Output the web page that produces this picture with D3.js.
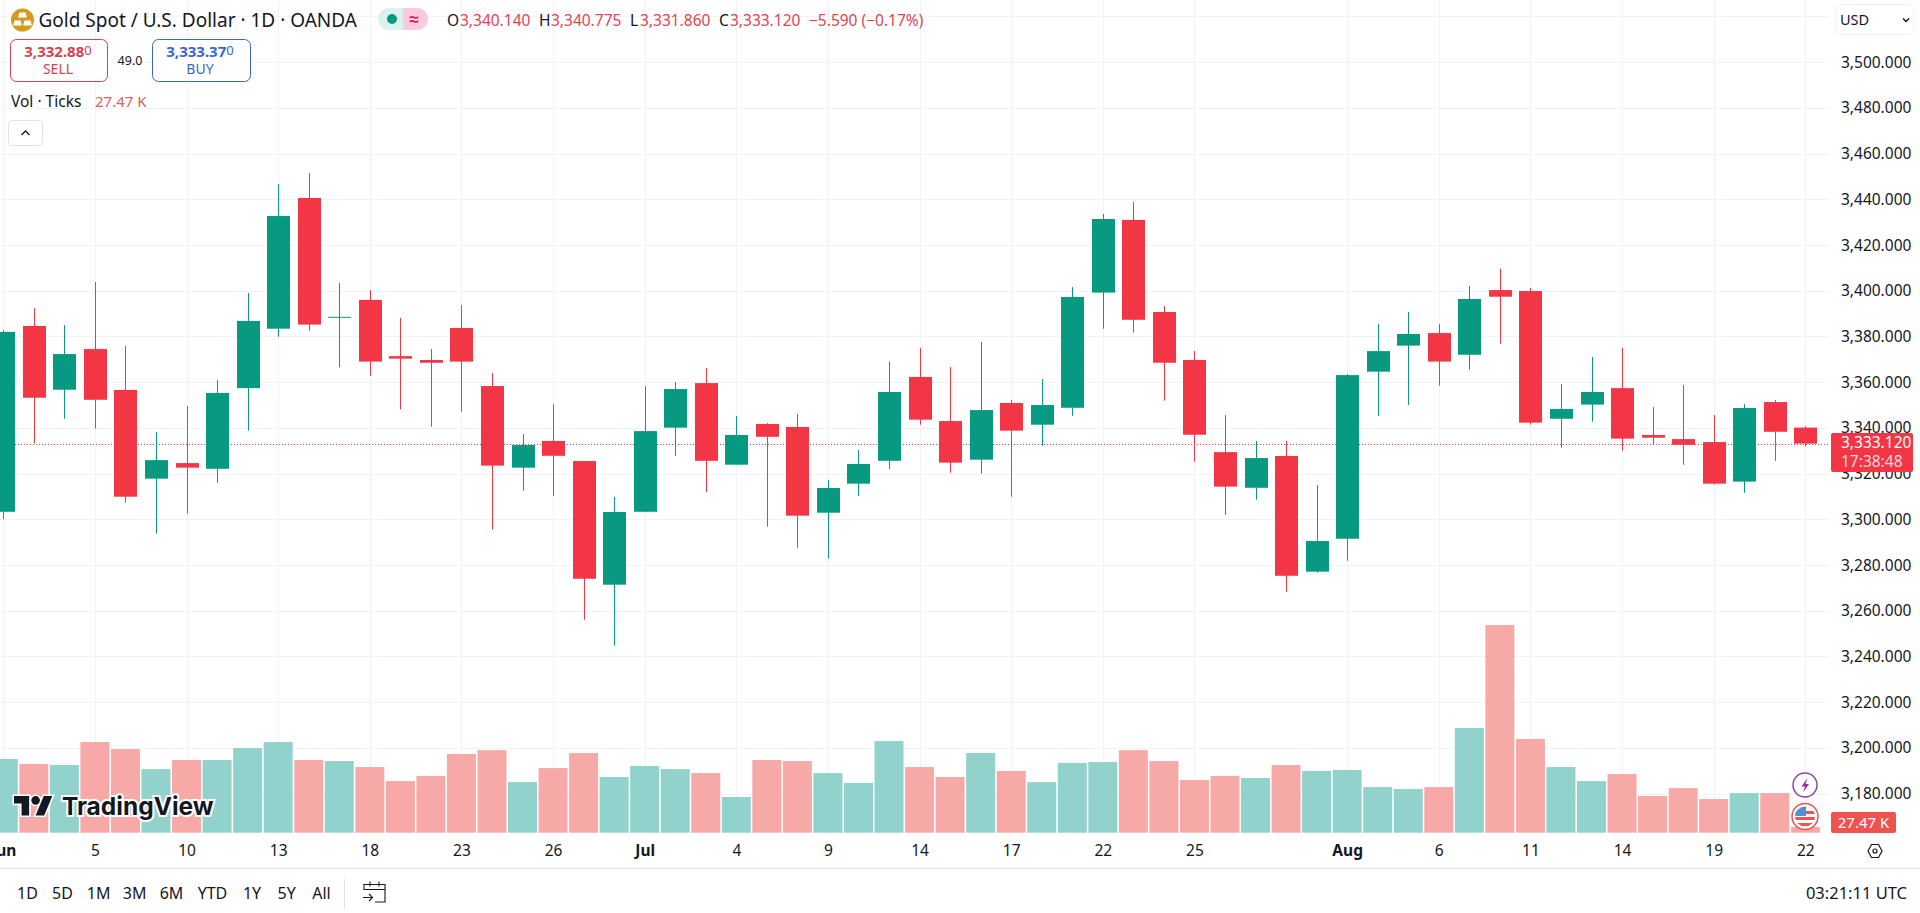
<!DOCTYPE html>
<html>
<head>
<meta charset="utf-8">
<title>Gold Spot / U.S. Dollar</title>
<script src="https://cdn.jsdelivr.net/npm/d3@7/dist/d3.min.js"></script>
<style>
  html, body { margin: 0; padding: 0; background: #fff; overflow: hidden; }
  svg { display: block; }
  text { font-family: "Noto Sans", sans-serif; fill: #131722; }
</style>
</head>
<body>
<div id="chart"></div>
<script>
// trading days shown on the chart
const dates = [
  '06-02','06-03','06-04','06-05','06-06','06-09','06-10','06-11','06-12','06-13',
  '06-16','06-17','06-18','06-19','06-20','06-23','06-24','06-25','06-26','06-27',
  '06-30','07-01','07-02','07-03','07-04','07-07','07-08','07-09','07-10','07-11',
  '07-14','07-15','07-16','07-17','07-18','07-21','07-22','07-23','07-24','07-25',
  '07-28','07-29','07-30','07-31','08-01','08-04','08-05','08-06','08-07','08-08',
  '08-11','08-12','08-13','08-14','08-15','08-18','08-19','08-20','08-21','08-22'
];

const opens = [
  3303.3,3384.6,3356.7,3374.5,3356.6,3317.8,3324.6,3322.1,3357.4,3383.4,
  3440.6,3388.4,3396.0,3371.4,3369.7,3383.7,3358.3,3322.6,3334.3,3325.5,
  3271.4,3303.3,3340.1,3359.6,3323.9,3341.7,3340.4,3302.9,3315.6,3325.6,
  3362.3,3343.0,3326.1,3350.9,3341.4,3348.8,3399.2,3431.0,3390.7,3369.7,
  3329.4,3313.8,3327.7,3277.1,3291.5,3364.6,3376.0,3381.5,3372.0,3400.3,
  3399.9,3344.0,3350.2,3357.4,3336.9,3335.1,3333.8,3316.5,3351.3,3340.14
];
const highs = [
  3382.8,3392.3,3385.0,3403.8,3375.8,3338.2,3349.6,3360.9,3399.0,3446.7,
  3451.5,3403.4,3400.3,3388.1,3374.5,3393.8,3364.0,3337.3,3350.4,3325.5,
  3309.8,3358.3,3360.1,3366.2,3345.2,3342.1,3346.1,3317.2,3330.3,3369.0,
  3375.0,3366.6,3377.6,3352.2,3361.4,3401.6,3433.6,3438.8,3393.3,3373.6,
  3345.6,3334.3,3334.3,3315.0,3363.6,3385.4,3390.7,3385.4,3402.1,3409.7,
  3401.2,3359.2,3371.0,3375.0,3349.1,3358.8,3345.6,3350.4,3352.2,3340.775
];
const lows = [
  3300.1,3333.2,3344.0,3339.7,3307.3,3293.7,3302.5,3316.0,3338.8,3379.9,
  3382.5,3366.5,3362.8,3348.1,3340.5,3347.1,3295.5,3312.5,3310.3,3256.1,
  3244.7,3303.3,3327.8,3311.9,3323.9,3296.8,3287.6,3282.8,3310.3,3322.0,
  3341.4,3320.4,3320.0,3309.9,3332.2,3345.3,3383.4,3381.7,3351.9,3325.2,
  3302.0,3308.6,3268.3,3276.6,3281.9,3345.3,3350.0,3358.5,3365.5,3376.8,
  3341.4,3331.3,3342.7,3330.0,3332.6,3323.9,3315.3,3311.6,3325.6,3331.86
];
const closes = [
  3382.0,3353.2,3372.3,3352.3,3309.9,3325.9,3322.6,3355.3,3386.8,3432.7,
  3385.2,3388.6,3369.0,3370.3,3368.5,3369.0,3323.5,3332.5,3327.8,3274.0,
  3303.2,3338.6,3357.0,3325.6,3336.9,3336.1,3301.6,3313.7,3324.2,3355.7,
  3343.6,3324.8,3347.8,3338.8,3350.0,3397.3,3431.4,3387.3,3368.5,3337.0,
  3314.3,3326.8,3275.3,3290.5,3363.1,3373.6,3381.1,3369.0,3396.4,3397.4,
  3342.3,3348.3,3355.7,3335.3,3335.7,3332.6,3315.6,3348.7,3338.3,3333.12
];
// tick volume, thousands
const volumes = [
  357,333,328,439,405,308,352,352,410,439,
  352,347,318,250,275,381,400,245,313,386,
  270,323,308,289,173,352,347,289,241,444,
  318,270,386,299,245,338,342,400,347,255,
  275,265,328,299,304,221,212,221,507,1006,
  454,318,250,284,178,216,163,192,192,27.47
];

const priceTicks = [3180,3200,3220,3240,3260,3280,3300,3320,3340,3360,3380,3400,3420,3440,3460,3480,3500];
const timeTickDates = ['06-02','06-05','06-10','06-13','06-18','06-23','06-26','07-01','07-04','07-09','07-14','07-17','07-22','07-25','08-01','08-06','08-11','08-14','08-19','08-22'];
const timeTickLabels = ['Jun','5','10','13','18','23','26','Jul','4','9','14','17','22','25','Aug','6','11','14','19','22'];
const rangeLabels = ['1D','5D','1M','3M','6M','YTD','1Y','5Y','All'];
const rangeCenters = [27.5,62.5,98.6,134.7,171.5,212.5,252,286.6,321.5];
const lastPrice = 3333.12;

const GREEN = '#089981', RED = '#f23645', GRID = '#f0f3fa';
const VOL_GREEN = '#92d2cc', VOL_RED = '#f7a9a7';
const TEXT_SIZE = 15.5;
const paneRight = 1829, paneBottom = 833;

const svg = d3.select('#chart').append('svg').attr('width', 1920).attr('height', 913);

const x = d3.scalePoint().domain(dates).range([3.3, 1805.3]);
const y = d3.scaleLinear().domain([3180, 3500]).range([793.6, 62.2]);
const yVol = d3.scaleLinear().domain([0, 1006]).range([832.7, 625]);

/* ---
 * Helper: Appends one text node.
 */
function label(parent, px, py, str, opts = {}) {
  return parent.append('text')
    .attr('x', px)
    .attr('y', py)
    .attr('dy', '0.36em')
    .attr('text-anchor', opts.anchor || 'start')
    .attr('font-size', opts.size || TEXT_SIZE)
    .attr('font-weight', opts.weight || 400)
    .style('fill', opts.fill || '#131722')
    .text(str);
}

/* ---
 * Helper: Grid, pane contents and both axes.
 */
function drawGrid() {
  const grid = svg.append('g');
  grid.selectAll('.h').data(priceTicks.concat([3520])).enter().append('line')
    .attr('x1', 0).attr('x2', paneRight)
    .attr('y1', d => Math.round(y(d)) + 0.5).attr('y2', d => Math.round(y(d)) + 0.5)
    .attr('stroke', GRID);
  grid.selectAll('.v').data(timeTickDates).enter().append('line')
    .attr('y1', 0).attr('y2', paneBottom)
    .attr('x1', d => Math.round(x(d)) + 0.5).attr('x2', d => Math.round(x(d)) + 0.5)
    .attr('stroke', GRID);
}

function drawVolumes() {
  svg.append('g').selectAll('rect').data(dates).enter().append('rect')
    .attr('x', d => x(d) - 14.5)
    .attr('width', 29)
    .attr('y', (d, i) => yVol(volumes[i]))
    .attr('height', (d, i) => yVol(0) - yVol(volumes[i]))
    .attr('fill', (d, i) => closes[i] >= opens[i] ? VOL_GREEN : VOL_RED);
}

function drawLastLine() {
  svg.append('line')
    .attr('x1', 0).attr('x2', paneRight)
    .attr('y1', Math.round(y(lastPrice)) + 0.5).attr('y2', Math.round(y(lastPrice)) + 0.5)
    .attr('stroke', RED).attr('stroke-dasharray', '1 2');
}

function drawCandles() {
  const color = i => closes[i] >= opens[i] ? GREEN : RED;
  const g = svg.append('g');

  g.selectAll('line').data(dates).enter().append('line')
    .attr('x1', d => Math.round(x(d)) + 0.5).attr('x2', d => Math.round(x(d)) + 0.5)
    .attr('y1', (d, i) => y(highs[i]))
    .attr('y2', (d, i) => y(lows[i]))
    .attr('stroke', (d, i) => color(i));

  g.selectAll('rect').data(dates).enter().append('rect')
    .attr('x', d => Math.round(x(d)) - 11)
    .attr('width', 23)
    .attr('y', (d, i) => y(Math.max(opens[i], closes[i])))
    .attr('height', (d, i) => Math.max(1, Math.abs(y(opens[i]) - y(closes[i]))))
    .attr('fill', (d, i) => color(i));
}

function drawAxes() {
  const yAxis = d3.axisRight(y).tickValues(priceTicks).tickFormat(d3.format(',.3f')).tickSize(0).tickPadding(0);
  const gy = svg.append('g').attr('transform', 'translate(1841,0)').call(yAxis);
  gy.select('.domain').remove();
  gy.selectAll('text').attr('font-size', TEXT_SIZE).attr('font-family', '"Noto Sans", sans-serif');

  const xAxis = d3.axisBottom(x).tickValues(timeTickDates)
    .tickFormat((d, i) => timeTickLabels[i]).tickSize(0).tickPadding(0);
  const gx = svg.append('g').attr('transform', 'translate(0,844.5)').call(xAxis);
  gx.select('.domain').remove();
  gx.selectAll('text')
    .attr('font-size', TEXT_SIZE).attr('font-family', '"Noto Sans", sans-serif')
    .attr('font-weight', d => (d === '07-01' || d === '08-01' || d === '06-02') ? 700 : 400);

  svg.append('line').attr('x1', 0).attr('x2', 1920).attr('y1', 868.5).attr('y2', 868.5)
    .attr('stroke', '#e0e3eb');
}

/* ---
 * Helper: Red tags on the price scale.
 */
function drawPriceTags() {
  svg.append('rect').attr('x', 1831).attr('y', 433).attr('width', 82).attr('height', 39)
    .attr('rx', 2).attr('fill', RED);
  label(svg, 1841, 442.5, d3.format(',.3f')(lastPrice), { fill: '#fff' });
  label(svg, 1841, 461, '17:38:48', { fill: '#fcd5d9' });

  svg.append('rect').attr('x', 1831).attr('y', 812).attr('width', 65).attr('height', 21)
    .attr('rx', 2).attr('fill', '#ef5350');
  label(svg, 1863.5, 822.5, '27.47 K', { anchor: 'middle', fill: '#fff', size: 15 });
}

/* ---
 * Helper: Symbol line, OHLC values, trade buttons.
 */
function drawHeader() {
  const head = svg.append('g');

  // gold bars icon
  head.append('circle').attr('cx', 22.5).attr('cy', 20).attr('r', 11.5).attr('fill', '#d49b1e');
  [[22.5, 15], [17.5, 23], [27.5, 23]].forEach(p => {
    head.append('path').attr('fill', '#fff')
      .attr('d', `M${p[0] - 3},${p[1] - 2.5}h6l1.5,5h-9z`);
  });
  label(head, 38.5, 20, 'Gold Spot / U.S. Dollar · 1D · OANDA', { size: 19 });

  // market status pill
  head.append('path').attr('fill', '#d9f2ee').attr('d', 'M403,8h-14a11,11 0 0 0 0,22h14z');
  head.append('path').attr('fill', '#fcc8dc').attr('d', 'M403,8h14a11,11 0 0 1 0,22h-14z');
  head.append('circle').attr('cx', 392).attr('cy', 19).attr('r', 5).attr('fill', GREEN);
  label(head, 414, 19, '≈', { anchor: 'middle', size: 17, weight: 700, fill: '#d81b60' });

  const red = '#e5434f';
  label(head, 447, 20, 'O');
  label(head, 460, 20, '3,340.140', { fill: red });
  label(head, 539, 20, 'H');
  label(head, 551, 20, '3,340.775', { fill: red });
  label(head, 630, 20, 'L');
  label(head, 640, 20, '3,331.860', { fill: red });
  label(head, 719, 20, 'C');
  label(head, 730, 20, '3,333.120', { fill: red });
  label(head, 809, 20, '−5.590 (−0.17%)', { fill: red });

  // sell and buy boxes
  const boxes = [
    { x: 10.5, w: 97, color: '#d9404f', price: '3,332.88', side: 'SELL', mid: 58 },
    { x: 152.5, w: 98, color: '#3a66cc', price: '3,333.37', side: 'BUY', mid: 200 }
  ];
  boxes.forEach(b => {
    head.append('rect').attr('x', b.x).attr('y', 39.5).attr('width', b.w).attr('height', 42)
      .attr('rx', 6).attr('fill', '#fff').attr('stroke', b.color);
    const t = label(head, b.mid, 52, b.price, { anchor: 'middle', size: 15, weight: 700, fill: b.color });
    t.append('tspan').attr('font-size', 13).attr('font-weight', 400).attr('dy', '-0.15em').text('0');
    label(head, b.mid, 69, b.side, { anchor: 'middle', size: 14, fill: b.color });
  });
  label(head, 130, 60, '49.0', { anchor: 'middle', size: 12.5 });

  label(head, 11, 101.5, 'Vol · Ticks');
  label(head, 95, 101.5, '27.47 K', { size: 15, fill: '#e0605c' });

  head.append('rect').attr('x', 8.5).attr('y', 120.5).attr('width', 34).attr('height', 25)
    .attr('rx', 3).attr('fill', '#fff').attr('stroke', '#e0e3eb');
  head.append('path').attr('d', 'M21.5,135l4,-4l4,4').attr('fill', 'none').attr('stroke', '#131722').attr('stroke-width', 1.3);

  // currency selector
  head.append('rect').attr('x', 1835.5).attr('y', 4.5).attr('width', 78).attr('height', 30)
    .attr('rx', 4).attr('fill', '#fff').attr('stroke', '#f0f3fa');
  label(head, 1840, 20, 'USD', { size: 14.5 });
  head.append('path').attr('d', 'M1903,18.5l3,3l3,-3').attr('fill', 'none').attr('stroke', '#131722').attr('stroke-width', 1.5);
}

/* ---
 * Helper: Watermark logo, event badges, bottom toolbar.
 */
function drawFooter() {
  const logo = svg.append('g');
  logo.append('g').attr('transform', 'translate(14,791.7) scale(1.08)')
    .append('path')
    .attr('d', 'M14 22H7V11H0V4h14v18zM28 22h-8l7.5-18h8L28 22zM24 8a4 4 0 1 1-8 0 4 4 0 0 1 8 0z')
    .attr('fill', '#131722').attr('stroke', '#fff').attr('stroke-width', 3).attr('paint-order', 'stroke');
  logo.append('text').attr('x', 62).attr('y', 815)
    .attr('font-size', 24.5).attr('font-weight', 700)
    .style('font-family', 'Inter, sans-serif').style('fill', '#131722')
    .attr('stroke', '#fff').attr('stroke-width', 4).attr('paint-order', 'stroke')
    .text('TradingView');

  // event badges above the last bar
  const badge = svg.append('g');
  badge.append('circle').attr('cx', 1805).attr('cy', 785).attr('r', 12).attr('fill', '#fff')
    .attr('stroke', '#8e44ad').attr('stroke-width', 1.5);
  badge.append('path').attr('d', 'M1807.5,778l-6,8.5h3.5l-2,6l6,-8.5h-3.5z').attr('fill', '#9c27b0');
  badge.append('circle').attr('cx', 1805).attr('cy', 816.5).attr('r', 13).attr('fill', '#fff')
    .attr('stroke', '#ef5350').attr('stroke-width', 1.5);
  svg.append('clipPath').attr('id', 'flag-clip').append('circle')
    .attr('cx', 1805).attr('cy', 816.5).attr('r', 10);
  const flag = svg.append('g').attr('clip-path', 'url(#flag-clip)');
  flag.append('rect').attr('x', 1795).attr('y', 811).attr('width', 20).attr('height', 3).attr('fill', '#ef5350');
  flag.append('rect').attr('x', 1795).attr('y', 817).attr('width', 20).attr('height', 3).attr('fill', '#ef5350');
  flag.append('rect').attr('x', 1795).attr('y', 823).attr('width', 20).attr('height', 3).attr('fill', '#ef5350');
  flag.append('rect').attr('x', 1795).attr('y', 806).attr('width', 11).attr('height', 10).attr('fill', '#4f8fd8');

  // scale settings hexagon
  svg.append('path').attr('d', 'M1868,851l3.5,-6.5h7l3.5,6.5l-3.5,6.5h-7z')
    .attr('fill', 'none').attr('stroke', '#131722').attr('stroke-width', 1.2);
  svg.append('circle').attr('cx', 1875).attr('cy', 851).attr('r', 2).attr('fill', 'none')
    .attr('stroke', '#131722').attr('stroke-width', 1.2);

  rangeLabels.forEach((r, i) => label(svg, rangeCenters[i], 893, r, { anchor: 'middle', size: 16 }));

  svg.append('line').attr('x1', 344.5).attr('x2', 344.5).attr('y1', 879).attr('y2', 909).attr('stroke', '#e0e3eb');
  svg.append('path')
    .attr('d', 'M364,890v-5.5h21v17.5h-10M364,889.5h21M370,881.5v5M379,881.5v5M363,897.5h9M369,894l3.5,3.5l-3.5,3.5')
    .attr('fill', 'none').attr('stroke', '#131722').attr('stroke-width', 1.1);

  label(svg, 1907, 893, '03:21:11 UTC', { anchor: 'end', size: 16.5 });
}

drawGrid();
drawVolumes();
drawLastLine();
drawCandles();
drawAxes();
drawPriceTags();
drawHeader();
drawFooter();
</script>
</body>
</html>
